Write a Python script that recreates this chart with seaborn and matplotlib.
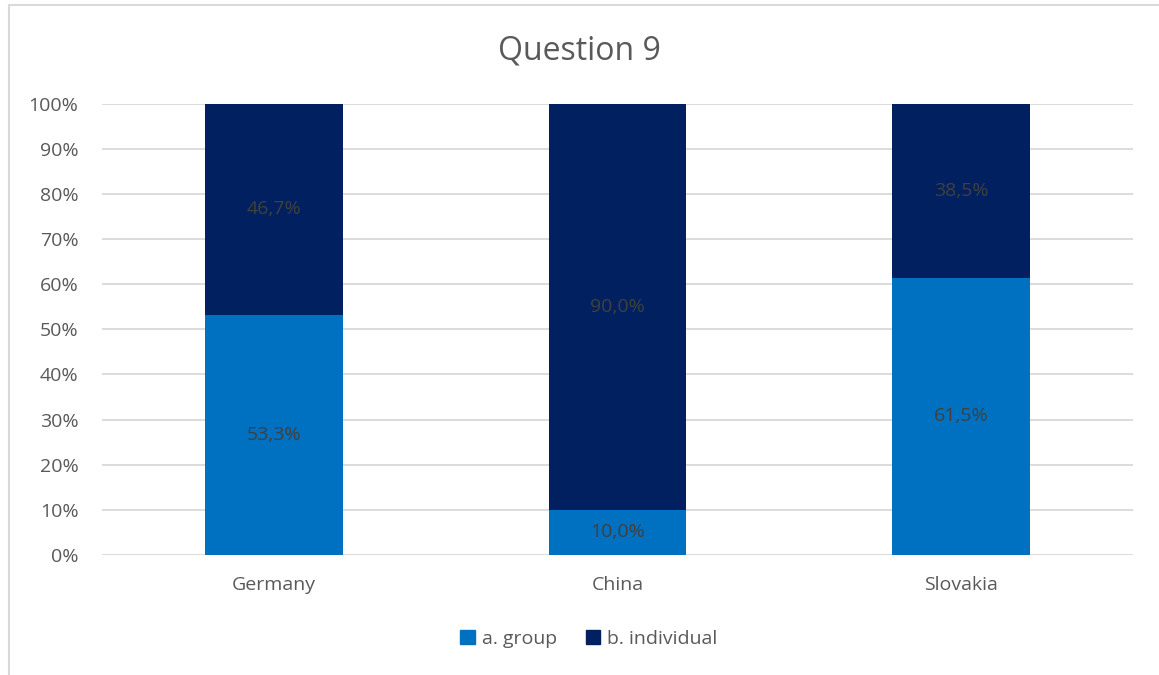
import matplotlib
matplotlib.use("Agg")
import matplotlib.pyplot as plt
from matplotlib.lines import Line2D
import seaborn as sns
import pandas as pd

countries = ["Germany", "China", "Slovakia"]
group_pct = [53.3, 10.0, 61.5]
individual_pct = [46.7, 90.0, 38.5]
series_names = ["a. group", "b. individual"]
y_ticks = [0, 10, 20, 30, 40, 50, 60, 70, 80, 90, 100]

GROUP_COLOR = "#0070C0"
INDIV_COLOR = "#002060"
TEXT_COLOR = "#595959"
LABEL_COLOR = "#404040"
GRID_COLOR = "#D9D9D9"

sns.set_theme(style="white")
plt.rcParams["font.family"] = ["Open Sans", "DejaVu Sans"]

df = pd.DataFrame({
    "country": countries,
    "group": group_pct,
    "individual": individual_pct,
})
df["stack_top"] = df["group"] + df["individual"]

fig = plt.figure(figsize=(11.59, 6.75), dpi=100)
ax = fig.add_axes([0.088, 0.178, 0.8896, 0.668])

# stacked bars: full stack in dark blue, lower segment in light blue on top
sns.barplot(data=df, x="country", y="stack_top", color=INDIV_COLOR,
            width=0.4, saturation=1, ax=ax, zorder=3, linewidth=0)
sns.barplot(data=df, x="country", y="group", color=GROUP_COLOR,
            width=0.4, saturation=1, ax=ax, zorder=3, linewidth=0)
if ax.get_legend() is not None:
    ax.get_legend().remove()

def fmt(v):
    return f"{v:.1f}".replace(".", ",") + "%"

for i, (g, ind) in enumerate(zip(group_pct, individual_pct)):
    ax.text(i, g / 2, fmt(g), ha="center", va="center",
            fontsize=14, color=LABEL_COLOR, zorder=4)
    ax.text(i, g + ind / 2, fmt(ind), ha="center", va="center",
            fontsize=14, color=LABEL_COLOR, zorder=4)

ax.set_ylim(0, 100)
ax.set_xlim(-0.5, 2.5)
ax.set_yticks(y_ticks)
ax.set_yticklabels([f"{t}%" for t in y_ticks])
ax.set_xlabel("")
ax.set_ylabel("")
ax.tick_params(axis="both", length=0, labelsize=14, colors=TEXT_COLOR)
ax.tick_params(axis="y", pad=17)
ax.tick_params(axis="x", pad=15)
for s in ax.spines.values():
    s.set_visible(False)
ax.yaxis.grid(True, color=GRID_COLOR, linewidth=1.3, zorder=0)
ax.set_axisbelow(True)

fig.text(0.5, 0.924, "Question 9", ha="center", va="center",
         fontsize=23, color=TEXT_COLOR)

handles = [
    plt.Rectangle((0, 0), 1, 1, color=GROUP_COLOR),
    plt.Rectangle((0, 0), 1, 1, color=INDIV_COLOR),
]
fig.legend(handles, series_names, loc="center", bbox_to_anchor=(0.508, 0.054),
           ncol=2, frameon=False, fontsize=14, labelcolor=TEXT_COLOR,
           handlelength=0.75, handleheight=0.75, handletextpad=0.35,
           columnspacing=1.5)

# chart area border (top and left edges)
fig.add_artist(Line2D([9 / 1159, 1.0], [1 - 4.5 / 675, 1 - 4.5 / 675],
                      color=GRID_COLOR, linewidth=1.5, transform=fig.transFigure))
fig.add_artist(Line2D([9 / 1159, 9 / 1159], [0.0, 1 - 4.5 / 675],
                      color=GRID_COLOR, linewidth=1.5, transform=fig.transFigure))

fig.savefig("out.png", dpi=100)
